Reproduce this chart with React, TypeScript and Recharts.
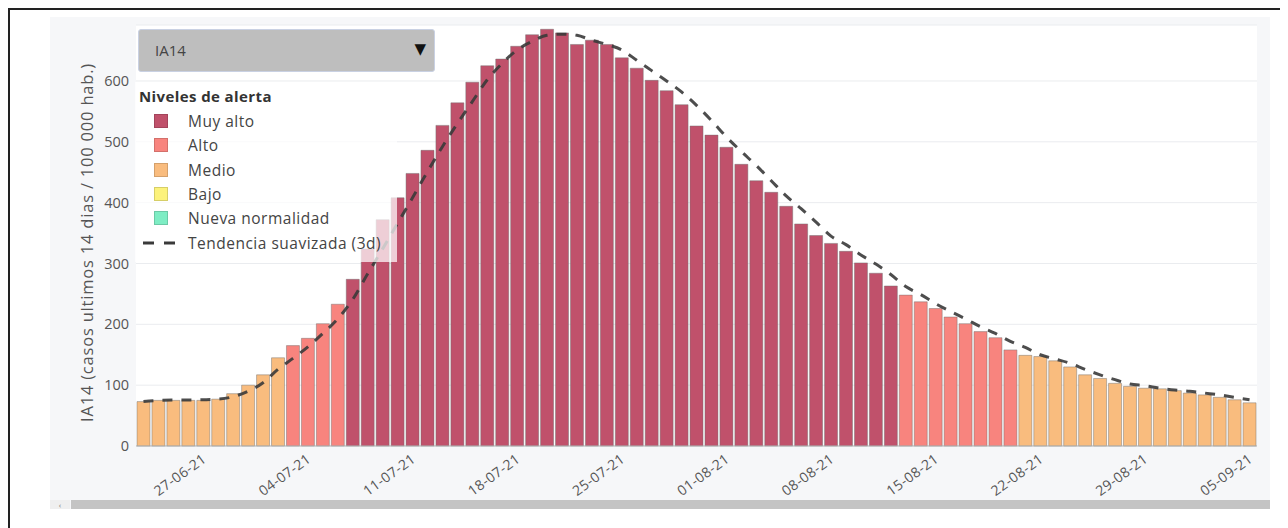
import { ComposedChart, Bar, Line, Cell, XAxis, YAxis, CartesianGrid, Legend } from "recharts";

// IA14 por día (23-06-21 .. 05-09-21)
const dates = [
  "23-06-21", "24-06-21", "25-06-21", "26-06-21", "27-06-21", "28-06-21", "29-06-21", "30-06-21",
  "01-07-21", "02-07-21", "03-07-21", "04-07-21", "05-07-21", "06-07-21", "07-07-21", "08-07-21",
  "09-07-21", "10-07-21", "11-07-21", "12-07-21", "13-07-21", "14-07-21", "15-07-21", "16-07-21",
  "17-07-21", "18-07-21", "19-07-21", "20-07-21", "21-07-21", "22-07-21", "23-07-21", "24-07-21",
  "25-07-21", "26-07-21", "27-07-21", "28-07-21", "29-07-21", "30-07-21", "31-07-21",
  "01-08-21", "02-08-21", "03-08-21", "04-08-21", "05-08-21", "06-08-21", "07-08-21", "08-08-21",
  "09-08-21", "10-08-21", "11-08-21", "12-08-21", "13-08-21", "14-08-21", "15-08-21", "16-08-21",
  "17-08-21", "18-08-21", "19-08-21", "20-08-21", "21-08-21", "22-08-21", "23-08-21", "24-08-21",
  "25-08-21", "26-08-21", "27-08-21", "28-08-21", "29-08-21", "30-08-21", "31-08-21",
  "01-09-21", "02-09-21", "03-09-21", "04-09-21", "05-09-21",
];

const ia14 = [
  73, 75, 75, 75, 75, 77, 86, 100, 117, 145,
  165, 177, 201, 233, 274, 324, 372, 408, 448, 486,
  527, 564, 598, 625, 636, 657, 676, 685, 679, 660,
  667, 660, 638, 621, 601, 584, 561, 526, 511, 491,
  463, 436, 417, 394, 365, 346, 333, 320, 301, 284,
  263, 248, 237, 226, 212, 201, 188, 178, 158, 149,
  147, 140, 130, 117, 111, 103, 98, 95, 94, 91,
  87, 84, 80, 76, 71,
];

// tendencia suavizada (3d)
const trend = [
  73, 75, 75.5, 75.5, 76, 77, 81, 90, 104, 126,
  144, 163, 185, 209, 241, 283, 324, 366, 408, 451,
  492, 530, 566, 602, 629, 651, 665, 675, 677, 675,
  667, 660, 651, 634, 617, 600, 582, 560, 535, 508,
  484, 461, 436, 411, 390, 368, 345, 331, 314, 299,
  282, 262, 249, 234, 221, 209, 196, 185, 172, 162,
  150, 143, 136, 126, 117, 109, 102, 99, 95, 92,
  90, 87, 84, 80, 76,
];

const tickDates = [
  "27-06-21", "04-07-21", "11-07-21", "18-07-21", "25-07-21", "01-08-21",
  "08-08-21", "15-08-21", "22-08-21", "29-08-21", "05-09-21",
];

const yTicks = [0, 100, 200, 300, 400, 500, 600];

const levels = [
  { name: "Muy alto", color: "#c0516b" },
  { name: "Alto", color: "#f8847e" },
  { name: "Medio", color: "#f9bc7e" },
  { name: "Bajo", color: "#fcf27b" },
  { name: "Nueva normalidad", color: "#7eedc4" },
];

const FONT = "'Open Sans', 'DejaVu Sans', sans-serif";

function levelColor(v: number) {
  if (v >= 250) return levels[0].color;
  if (v >= 150) return levels[1].color;
  if (v >= 50) return levels[2].color;
  if (v >= 25) return levels[3].color;
  return levels[4].color;
}

const data = dates.map((d, i) => ({ date: d, ia14: ia14[i], trend: trend[i] }));

const XTick = ({ x, y, payload }: any) => (
  <g transform={`translate(${x},${y})`}>
    <text
      x={0}
      y={0}
      textAnchor="end"
      transform="translate(4,15) rotate(-36)"
      fill="#555"
      fontSize={14}
      letterSpacing={0.4}
      fontFamily={FONT}
    >
      {payload.value}
    </text>
  </g>
);

const renderLegend = () => (
  <div style={{ fontFamily: FONT, color: "#444", position: "relative", width: "100%", height: "100%" }}>
    <div style={{ position: "absolute", left: 4, top: 4, fontWeight: 700, fontSize: 15, letterSpacing: 0.4, color: "#333" }}>
      Niveles de alerta
    </div>
    {levels.map((l, i) => (
      <div key={l.name} style={{ position: "absolute", left: 0, top: 29 + i * 24.3, height: 20, width: "100%" }}>
        <span
          style={{
            position: "absolute",
            left: 19,
            top: 3,
            width: 14,
            height: 14,
            background: l.color,
            border: "1px solid rgba(0,0,0,0.15)",
            boxSizing: "border-box",
          }}
        />
        <span style={{ position: "absolute", left: 53, top: -1, fontSize: 15.5, letterSpacing: 0.5, whiteSpace: "nowrap" }}>
          {l.name}
        </span>
      </div>
    ))}
    <div style={{ position: "absolute", left: 0, top: 29 + 5 * 24.3, height: 20, width: "100%" }}>
      <svg width={40} height={20} style={{ position: "absolute", left: 6, top: 0 }}>
        <line x1={2} y1={10} x2={36} y2={10} stroke="#3a3a3a" strokeWidth={3} strokeDasharray="11 10" />
      </svg>
      <span style={{ position: "absolute", left: 53, top: -1, fontSize: 15.5, letterSpacing: 0.5, whiteSpace: "nowrap" }}>
        Tendencia suavizada (3d)
      </span>
    </div>
  </div>
);

export default function App() {
  return (
    <div
      style={{
        position: "relative",
        width: 1280,
        height: 520,
        borderTop: "2px solid #222",
        borderLeft: "2px solid #222",
        boxSizing: "border-box",
        fontFamily: FONT,
        background: "#fff",
      }}
    >
      <div style={{ position: "absolute", left: 40, top: 7, width: 1220, height: 492, background: "#f6f7f9" }}>
        <ComposedChart
          width={1220}
          height={492}
          data={data}
          margin={{ top: 8, right: 13, left: 0, bottom: 0 }}
          barSize={13}
        >
          <CartesianGrid vertical={false} stroke="#eaecef" fill="#ffffff" />
          <XAxis
            dataKey="date"
            ticks={tickDates}
            interval={0}
            tick={<XTick />}
            tickLine={false}
            tickSize={0}
            tickMargin={0}
            height={63}
            axisLine={{ stroke: "#b5b5b5" }}
          />
          <YAxis
            domain={[0, 692]}
            ticks={yTicks}
            width={86}
            axisLine={false}
            tickLine={false}
            tickSize={0}
            tickMargin={7}
            tick={{ fill: "#555", fontSize: 14.5, fontFamily: FONT }}
            label={{
              value: "IA14 (casos ultimos 14 dias / 100 000 hab.)",
              angle: -90,
              position: "center",
              dx: -6,
              dy: 7,
              style: { fill: "#555", fontSize: 16.5, letterSpacing: 0.8, fontFamily: FONT, textAnchor: "middle" },
            }}
          />
          <Bar dataKey="ia14" isAnimationActive={false} stroke="rgba(110,110,110,0.45)" strokeWidth={1}>
            {data.map((d) => (
              <Cell key={d.date} fill={levelColor(d.ia14)} />
            ))}
          </Bar>
          <Line
            dataKey="trend"
            type="monotone"
            stroke="#3a3a3a"
            strokeOpacity={0.9}
            strokeWidth={3}
            strokeDasharray="10 9"
            dot={false}
            activeDot={false}
            isAnimationActive={false}
          />
          <Legend
            layout="vertical"
            align="center"
            verticalAlign="middle"
            content={renderLegend}
            wrapperStyle={{
              left: 85,
              top: 65,
              width: 262,
              height: 180,
              background: "rgba(255,255,255,0.72)",
            }}
          />
        </ComposedChart>

        <div
          style={{
            position: "absolute",
            left: 88,
            top: 12,
            width: 297,
            height: 43,
            background: "#bebebe",
            border: "1px solid #c9d1e3",
            borderRadius: 3,
            boxSizing: "border-box",
            color: "#444",
            fontSize: 15,
          }}
        >
          <span style={{ position: "absolute", left: 16, top: 10 }}>IA14</span>
          <span style={{ position: "absolute", right: 8, top: 8, fontSize: 15, color: "#111" }}>▼</span>
        </div>

        <div style={{ position: "absolute", left: 0, top: 483, width: 20, height: 9, background: "#efefef", fontSize: 8, color: "#777", lineHeight: "9px", textAlign: "center" }}>
          ‹
        </div>
        <div style={{ position: "absolute", left: 21, top: 483, width: 1199, height: 9, background: "#c4c4c4" }} />
      </div>
    </div>
  );
}
